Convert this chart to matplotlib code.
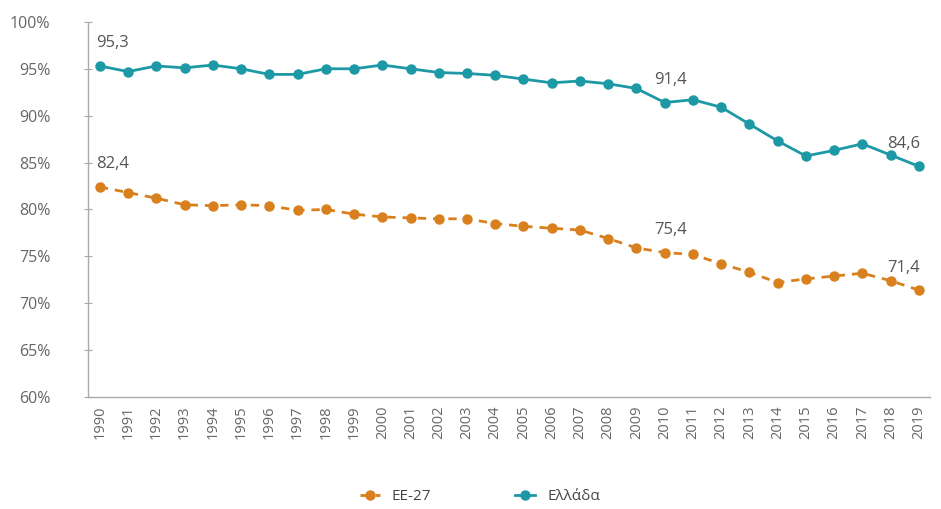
import matplotlib
matplotlib.use('Agg')
from matplotlib import pyplot as plt
from matplotlib.ticker import FuncFormatter

plt.rcParams['font.family'] = ['Open Sans', 'DejaVu Sans']

years = list(range(1990, 2020))
greece = [95.3, 94.7, 95.3, 95.1, 95.4, 95.0, 94.4, 94.4, 95.0, 95.0,
          95.4, 95.0, 94.6, 94.5, 94.3, 93.9, 93.5, 93.7, 93.4, 92.9,
          91.4, 91.7, 90.9, 89.1, 87.3, 85.7, 86.3, 87.0, 85.8, 84.6]
eu27 = [82.4, 81.8, 81.2, 80.5, 80.4, 80.5, 80.4, 79.9, 80.0, 79.5,
        79.2, 79.1, 79.0, 79.0, 78.5, 78.2, 78.0, 77.8, 76.9, 75.9,
        75.4, 75.2, 74.2, 73.3, 72.2, 72.6, 72.9, 73.2, 72.4, 71.4]
labelled_years = [1990, 2010, 2019]

teal = '#1d99a6'
orange = '#d9801e'
grey = '#666666'

fig = plt.figure(figsize=(9.41, 5.09), dpi=100)
ax = fig.add_axes([0.0935, 0.22, 0.895, 0.737])

ax.plot(years, eu27, color=orange, linestyle=(0, (3, 2.5)), linewidth=2,
        marker='o', markersize=6.5, label='ΕΕ-27')
ax.plot(years, greece, color=teal, linestyle='-', linewidth=2,
        marker='o', markersize=6.5, label='Ελλάδα')

for yr in labelled_years:
    i = years.index(yr)
    for vals in (greece, eu27):
        txt = ('%.1f' % vals[i]).replace('.', ',')
        dx = 0.45 if yr == 1990 else (0.2 if yr == 2010 else -0.55)
        ax.annotate(txt, (yr, vals[i]), xytext=(yr + dx, vals[i] + 2.4),
                    textcoords='data', ha='center', va='center',
                    fontsize=12, color='#555555')

ax.set_xlim(1989.58, 2019.4)
ax.set_ylim(60, 100)
ax.set_xticks(years)
ax.set_xticklabels([str(y) for y in years], rotation=90, fontsize=10.5, color=grey)
ax.set_yticks(range(60, 101, 5))
ax.yaxis.set_major_formatter(FuncFormatter(lambda v, p: '%d%%' % v))
ax.tick_params(axis='y', labelsize=11.5, labelcolor=grey, direction='inout',
               length=6, color='#aaaaaa', pad=24)
ax.tick_params(axis='x', length=0, pad=6)

for s in ['top', 'right']:
    ax.spines[s].set_visible(False)
for s in ['left', 'bottom']:
    ax.spines[s].set_color('#aaaaaa')
    ax.spines[s].set_linewidth(1)

leg = fig.legend(loc='lower center', bbox_to_anchor=(0.51, -0.018), ncol=2,
                 frameon=False, fontsize=11, columnspacing=5.5, handlelength=1.3,
                 labelcolor='#444444')

fig.savefig('out.png', dpi=100)
